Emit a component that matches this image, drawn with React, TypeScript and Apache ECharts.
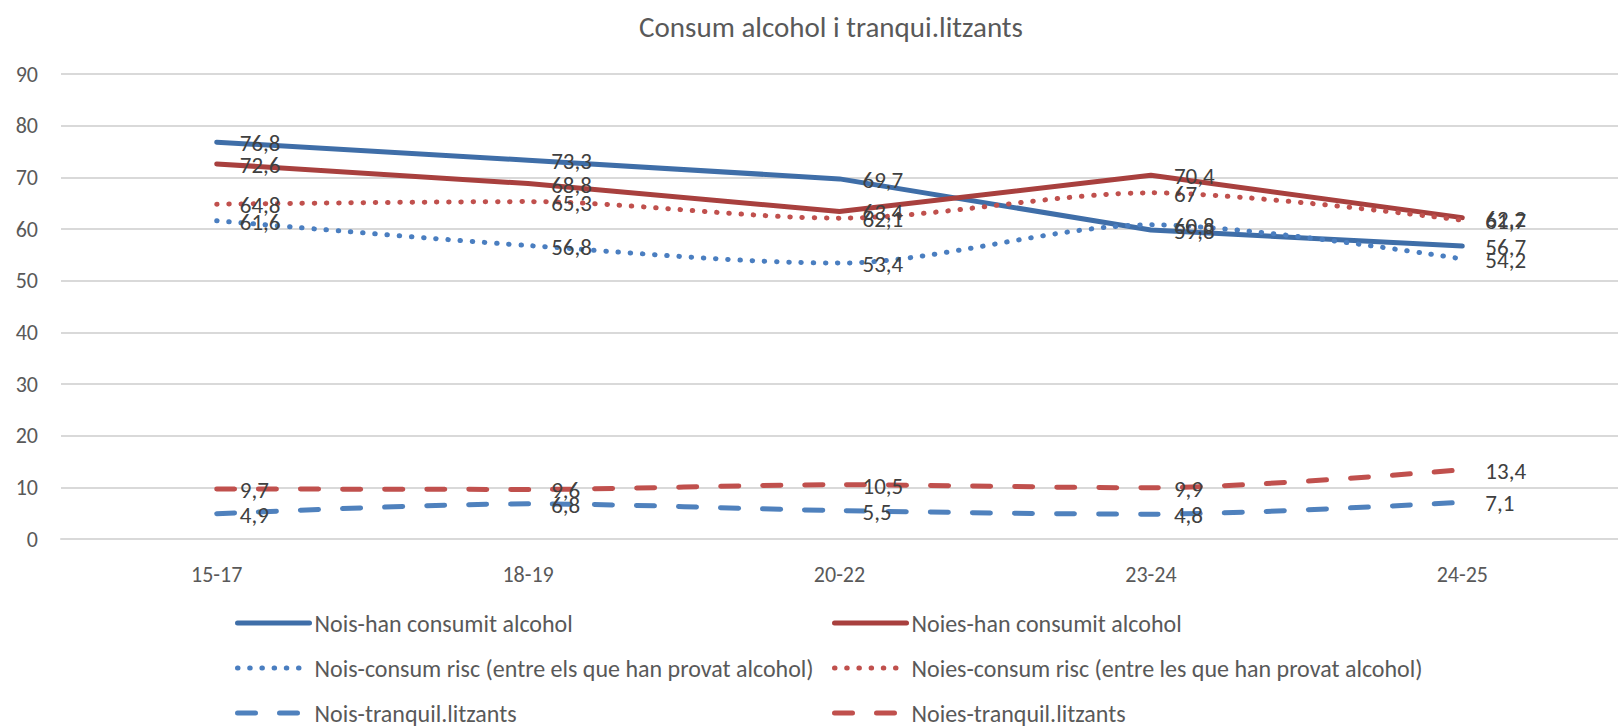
import React, { useEffect, useRef } from "react";
import * as echarts from "echarts";

const categories = ["15-17", "18-19", "20-22", "23-24", "24-25"];
const noisHan = [76.8, 73.3, 69.7, 59.8, 56.7];
const noiesHan = [72.6, 68.8, 63.4, 70.4, 62.2];
const noisRisc = [61.6, 56.8, 53.4, 60.8, 54.2];
const noiesRisc = [64.8, 65.3, 62.1, 67, 61.7];
const noisTranq = [4.9, 6.8, 5.5, 4.8, 7.1];
const noiesTranq = [9.7, 9.6, 10.5, 9.9, 13.4];

const names = [
  "Nois-han consumit alcohol",
  "Noies-han consumit alcohol",
  "Nois-consum risc (entre els que han provat alcohol)",
  "Noies-consum risc (entre les que han provat alcohol)",
  "Nois-tranquil.litzants",
  "Noies-tranquil.litzants",
];

const FONT = "Carlito, Lato, sans-serif";

export default function App() {
  const ref = useRef<HTMLDivElement>(null);
  useEffect(() => {
    document.body.style.margin = "0";
    const chart = echarts.init(ref.current!, null, { renderer: "svg" });
    const fmt = (p: any) => String(p.value).replace(".", ",");
    const mk = (
      name: string,
      data: number[],
      color: string,
      type: any,
      smooth: number | boolean
    ) => ({
      name,
      type: "line",
      data,
      symbol: "circle",
      symbolSize: 0.1,
      showSymbol: true,
      smooth,
      itemStyle: { color },
      lineStyle: { color, width: 5, type, cap: "round", join: "round" },
      label: {
        show: true,
        position: "right",
        distance: 23,
        offset: [0, 1],
        formatter: fmt,
        fontFamily: FONT,
        fontSize: 23,
        color: "#404040",
      },
    });
    const dotted = [0.5, 11.7];
    const dashed = [18, 24];
    const rowsY = [611, 656, 701];
    const colsX = [235, 832];
    const legends = names.map((n, i) => ({
      orient: "horizontal",
      left: colsX[i % 2],
      top: rowsY[Math.floor(i / 2)],
      padding: 0,
      itemWidth: 72,
      itemHeight: 20,
      itemGap: 6,
      data: [n],
      textStyle: { fontFamily: FONT, fontSize: 24, color: "#595959" },
      itemStyle: { opacity: 0 },
      lineStyle: { width: 5, cap: "round" },
    }));
    chart.setOption({
      animation: false,
      backgroundColor: "#ffffff",
      textStyle: { fontFamily: FONT },
      title: {
        text: "Consum alcohol i tranqui.litzants",
        left: 826,
        textAlign: "center",
        top: 7,
        textStyle: {
          fontFamily: FONT,
          fontSize: 29,
          fontWeight: "normal",
          color: "#595959",
        },
      },
      grid: { left: 61, top: 74, width: 1560, height: 465, containLabel: false },
      xAxis: {
        type: "category",
        data: categories,
        boundaryGap: true,
        axisLine: { show: true, lineStyle: { color: "#d9d9d9", width: 2 } },
        axisTick: { show: false },
        axisLabel: {
          margin: 24,
          fontFamily: FONT,
          fontSize: 22,
          color: "#595959",
        },
      },
      yAxis: {
        type: "value",
        min: 0,
        max: 90,
        interval: 10,
        axisLine: { show: false },
        axisTick: { show: false },
        splitLine: { lineStyle: { color: "#d9d9d9", width: 2 } },
        axisLabel: {
          margin: 23,
          fontFamily: FONT,
          fontSize: 22,
          color: "#595959",
        },
      },
      legend: legends,
      series: [
        mk(names[0], noisHan, "#3f6ea8", "solid", false),
        mk(names[1], noiesHan, "#a8403e", "solid", false),
        mk(names[2], noisRisc, "#4a7ec0", dotted, 0.3),
        mk(names[3], noiesRisc, "#c0504d", dotted, 0.3),
        mk(names[4], noisTranq, "#4f81bd", dashed, 0.3),
        mk(names[5], noiesTranq, "#c0504d", dashed, 0.3),
      ],
    });
    return () => chart.dispose();
  }, []);
  return (
    <div
      ref={ref}
      style={{ position: "absolute", left: 0, top: 0, width: 1618, height: 726 }}
    />
  );
}
